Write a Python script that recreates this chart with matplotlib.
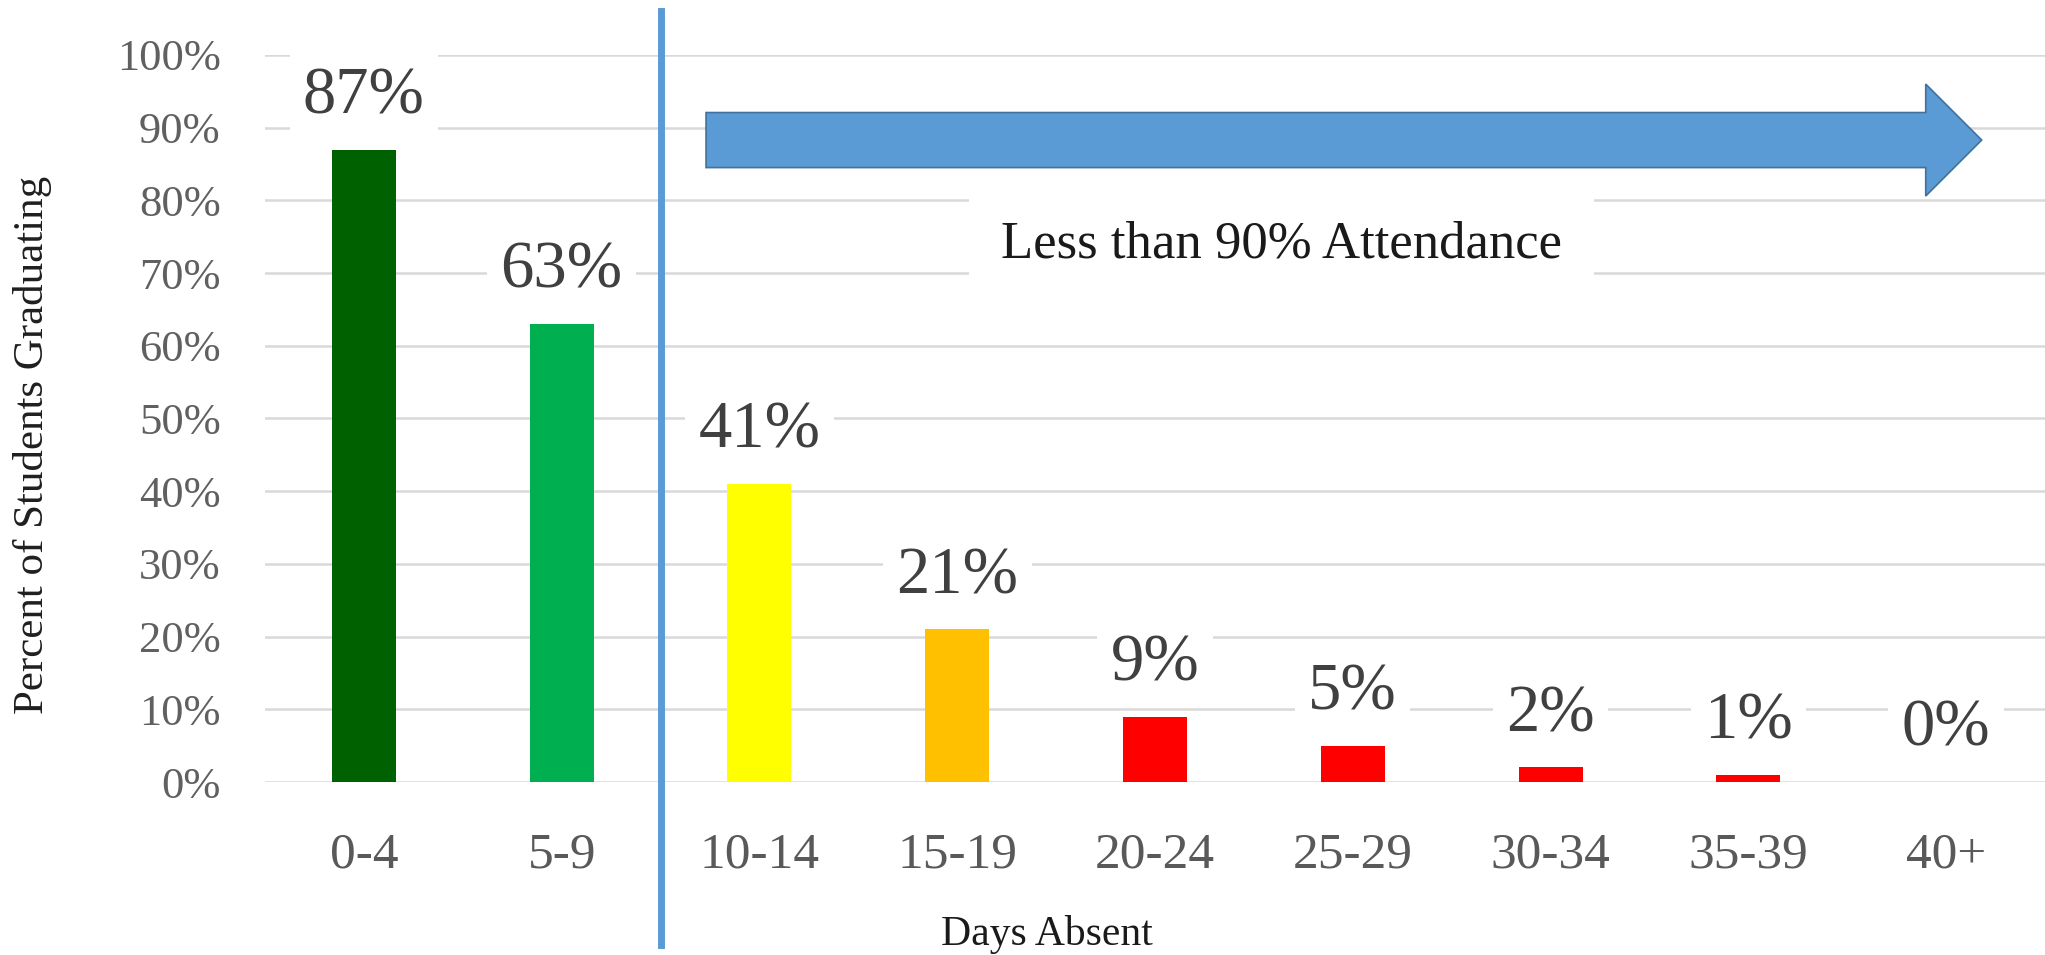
import matplotlib
matplotlib.use("Agg")
import matplotlib.pyplot as plt
from matplotlib.patches import FancyArrow

# Graduation rate by number of days absent
categories = ["0-4", "5-9", "10-14", "15-19", "20-24", "25-29", "30-34", "35-39", "40+"]
graduating = [0.87, 0.63, 0.41, 0.21, 0.09, 0.05, 0.02, 0.01, 0.00]
bar_colors = ["#006100", "#00B050", "#FFFF00", "#FFC000",
              "#FF0000", "#FF0000", "#FF0000", "#FF0000", "#FF0000"]
y_ticks = [0.0, 0.1, 0.2, 0.3, 0.4, 0.5, 0.6, 0.7, 0.8, 0.9, 1.0]
y_tick_labels = [f"{int(round(t * 100))}%" for t in y_ticks]

plt.rcParams["font.family"] = ["Liberation Serif", "DejaVu Serif"]

W, H = 2045, 955
fig = plt.figure(figsize=(W / 100, H / 100), dpi=100)
ax = fig.add_axes([265 / W, 173 / H, 1780 / W, 727 / H])

x = list(range(len(categories)))
ax.bar(x, graduating, width=0.324, color=bar_colors, zorder=2)

ax.set_xlim(-0.5, len(categories) - 0.5)
ax.set_ylim(0, 1.0)
ax.set_yticks(y_ticks)
ax.set_yticklabels(y_tick_labels)
ax.set_xticks(x)
ax.set_xticklabels(categories)
ax.tick_params(axis="y", length=0, pad=32, labelsize=32, labelcolor="#606060")
ax.tick_params(axis="x", length=0, pad=36, labelsize=37, labelcolor="#595959")
for s in ax.spines.values():
    s.set_visible(False)
ax.yaxis.grid(True, color="#D9D9D9", linewidth=1.8)
ax.set_axisbelow(True)

# value labels above each bar
for xi, v in zip(x, graduating):
    ax.annotate(f"{int(round(v * 100))}%", xy=(xi, v), xytext=(0, 38),
                textcoords="offset points", ha="center", va="center",
                fontsize=48, color="#404040", zorder=4,
                bbox=dict(boxstyle="square,pad=0.2", fc="white", ec="none"))

# divider between 90%+ attendance and below
ax.axvline(1.5, ymin=-0.224, ymax=1.06, color="#5B9BD5", linewidth=5,
           clip_on=False, zorder=3)

# arrow pointing toward more absences
arrow = FancyArrow(1.73, 0.883, 8.18 - 1.73, 0.0, width=0.0757,
                   head_width=0.154, head_length=0.283,
                   length_includes_head=True, fc="#5B9BD5", ec="#41719C",
                   linewidth=1.2, zorder=3)
ax.add_patch(arrow)

ax.text(0.571, 0.721, "Less than 90% Attendance", transform=ax.transAxes,
        ha="center", va="baseline", fontsize=38, color="#1A1A1A", zorder=4,
        bbox=dict(boxstyle="square,pad=0.6", fc="white", ec="none"))

fig.text(33 / W, 1 - 445 / H, "Percent of Students Graduating", rotation=90,
         ha="center", va="center", fontsize=31, color="#1F1F1F")
fig.text(1047 / W, 10 / H, "Days Absent", ha="center", va="baseline",
         fontsize=30, color="#1A1A1A")

fig.savefig("out.png", dpi=100, facecolor="white")
